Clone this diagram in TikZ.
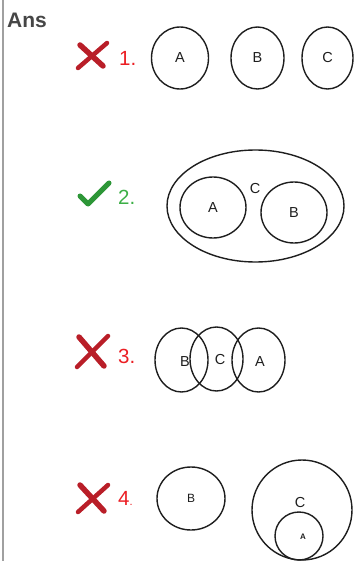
\documentclass[tikz,border=0pt]{standalone}
\usepackage{fontspec}
\setmainfont{Liberation Sans}
\usetikzlibrary{shapes.geometric}
\definecolor{ansGray}{RGB}{70,70,70}
\definecolor{barGray}{RGB}{160,160,160}
\definecolor{wrongRed}{RGB}{235,30,35}
\definecolor{crossRed}{RGB}{185,30,40}
\definecolor{rightGreen}{RGB}{60,175,70}
\definecolor{tickGreen}{RGB}{45,150,55}
\definecolor{inkGray}{RGB}{30,30,30}
\begin{document}
\begin{tikzpicture}[x=1pt, y=-1pt,
    setShape/.style={draw=inkGray, line width=1.4pt, ellipse, inner sep=0pt,
        font=\fontsize{14.5}{14.5}\selectfont, text=inkGray},
    setLabel/.style={font=\fontsize{14.5}{14.5}\selectfont, text=inkGray, inner sep=0pt},
    numWrong/.style={anchor=west, text=wrongRed, font=\fontsize{20.5}{20.5}\selectfont, inner sep=0pt},
    numRight/.style={anchor=west, text=rightGreen, font=\fontsize{20.5}{20.5}\selectfont, inner sep=0pt},
    crossMark/.style={draw=crossRed, line width=4.5pt, line cap=round},
    tickMark/.style={draw=tickGreen, line width=5pt, line cap=round, line join=round}]
    \useasboundingbox (0,0) rectangle (354,561);
    \fill[barGray] (1.5,0) rectangle (4,561);

    \node[anchor=west, text=ansGray, font=\fontsize{21}{21}\selectfont\bfseries, inner sep=0pt] (ans) at (7,20) {Ans};

    % 1. three separate sets
    \draw[crossMark, line width=5.5pt] (80,45) -- (103,66);
    \draw[crossMark] (78,68) -- (107,43);
    \node[numWrong] (n1) at (119,58) {1.};
    \node[setShape, minimum width=57pt, minimum height=62pt] (a1) at (180,58) {A};
    \node[setShape, minimum width=53pt, minimum height=62pt] (b1) at (257.5,58) {B};
    \node[setShape, minimum width=51pt, minimum height=62pt] (c1) at (327.5,58) {C};

    % 2. A and B inside C
    \draw[tickMark] (80,196) -- (88,204) -- (109,183);
    \node[numRight] (n2) at (118,197) {2.};
    \node[setShape, minimum width=177pt, minimum height=112pt] (c2) at (255.5,206) {};
    \node[setShape, minimum width=66pt, minimum height=61pt] (a2) at (213,207.5) {A};
    \node[setShape, minimum width=66pt, minimum height=61pt] (b2) at (294,212.5) {B};
    \node[setLabel] (lc2) at (255,189) {C};

    % 3. chain of overlaps
    \draw[crossMark, line width=5.5pt] (79,337) -- (104,366);
    \draw[crossMark] (77,367) -- (108,336);
    \node[numWrong] (n3) at (118,356) {3.};
    \node[setShape, minimum width=53pt, minimum height=64pt] (b3) at (181.5,360) {};
    \node[setShape, minimum width=53pt, minimum height=64pt] (c3) at (216.5,359) {};
    \node[setShape, minimum width=53pt, minimum height=64pt] (a3) at (258.5,360) {};
    \node[setLabel] (lb3) at (185,362) {B};
    \node[setLabel] (lc3) at (220,360) {C};
    \node[setLabel] (la3) at (260,362) {A};

    % 4. B apart, A inside C
    \draw[crossMark, line width=5.5pt] (80,485) -- (104,511);
    \draw[crossMark] (78,512) -- (108,485);
    \node[numWrong] (n4) at (118,498) {4\fontsize{11}{11}\selectfont.};
    \node[setShape, minimum width=68pt, minimum height=63pt, font=\fontsize{12}{12}\selectfont] (b4) at (191,498.5) {B};
    \node[setShape, minimum width=100pt, minimum height=100pt] (c4) at (302,510) {};
    \node[setShape, minimum width=48pt, minimum height=48pt] (a4) at (299,536) {};
    \node[setLabel, font=\fontsize{8}{8}\selectfont\bfseries] (la4) at (303,537) {A};
    \node[setLabel] (lc4) at (300,503) {C};
\end{tikzpicture}
\end{document}
